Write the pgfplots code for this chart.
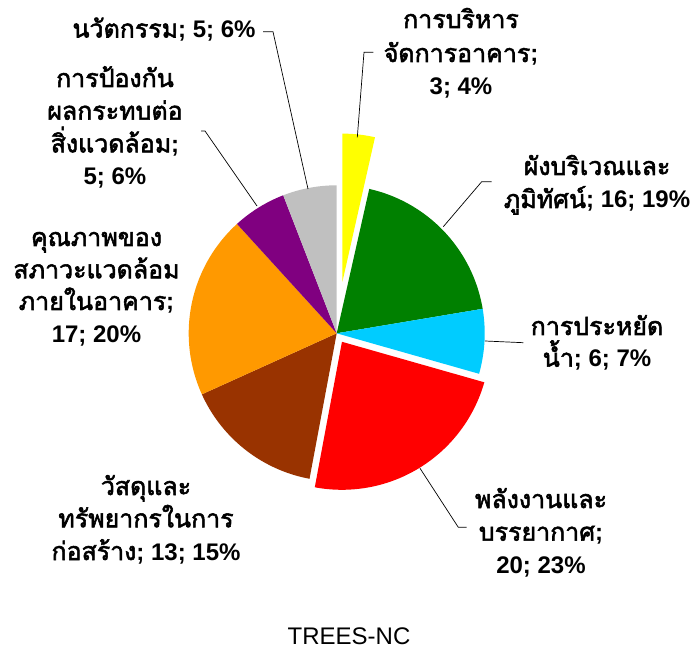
\documentclass[border=0pt]{standalone}
\usepackage{pgfplots}
\pgfplotsset{compat=1.18}
\usepackage{fontspec}
\setmainfont{Liberation Sans}
\newfontfamily\thai[Script=Thai, Scale=1.04, BoldFont={Loma}, BoldFeatures={FakeBold=2.2}]{Loma}
\newcommand{\T}[1]{{\thai #1}}
\definecolor{cYellow}{HTML}{FFFF00}
\definecolor{cGreen}{HTML}{008000}
\definecolor{cCyan}{HTML}{00CCFF}
\definecolor{cRed}{HTML}{FF0000}
\definecolor{cBrown}{HTML}{993300}
\definecolor{cOrange}{HTML}{FF9900}
\definecolor{cPurple}{HTML}{800080}
\definecolor{cGray}{HTML}{C0C0C0}
\tikzset{lb/.style={anchor=base, inner sep=0pt, font=\bfseries\fontsize{24}{33}\selectfont}}
% pie geometry (axis units = pt)
\def\cx{336.7}
\def\cy{315.7}
\def\R{148}
\def\total{85}
% #1 cumulative value before slice, #2 value, #3 colour, #4 explode distance
\newcommand{\slice}[4]{%
  \pgfmathsetmacro\aS{90-(#1)/\total*360}%
  \pgfmathsetmacro\aE{90-(#1+#2)/\total*360}%
  \pgfmathsetmacro\aM{(\aS+\aE)/2}%
  \pgfmathsetmacro\ox{\cx+#4*cos(\aM)}%
  \pgfmathsetmacro\oy{\cy+#4*sin(\aM)}%
  \edef\doslice{\noexpand\addplot[fill=#3,draw=none,domain=\aE:\aS,samples=80]
    ({\ox+\R*cos(x)},{\oy+\R*sin(x)}) -- (axis cs:\ox,\oy) -- cycle;}%
  \doslice}
\begin{document}
\begin{tikzpicture}
\begin{axis}[
  width=699pt, height=649pt, scale only axis,
  xmin=0, xmax=699, ymin=0, ymax=649,
  hide axis, clip=false,
]
\path (axis cs:0,0) rectangle (axis cs:699,649);
% values: 3, 16, 6, 20, 13, 17, 5, 5 (total 85)
\slice{0}{3}{cYellow}{52}
\slice{3}{16}{cGreen}{0}
\slice{19}{6}{cCyan}{0}
\slice{25}{20}{cRed}{10}
\slice{45}{13}{cBrown}{0}
\slice{58}{17}{cOrange}{0}
\slice{75}{5}{cPurple}{0}
\slice{80}{5}{cGray}{0}
% leader lines
\draw[black, line width=0.7pt] (axis cs:263,617.3) -- (axis cs:273,617.3) -- (axis cs:308,460);
\draw[black, line width=0.7pt] (axis cs:201,518) -- (axis cs:205,518) -- (axis cs:257,443);
\draw[black, line width=0.7pt] (axis cs:357.3,511.7) -- (axis cs:364,596.7) -- (axis cs:373.3,596.7);
\draw[black, line width=0.7pt] (axis cs:443.3,422.3) -- (axis cs:481.7,467.3) -- (axis cs:491.7,467.3);
\draw[black, line width=0.7pt] (axis cs:485,308) -- (axis cs:523.3,306.3);
\draw[black, line width=0.7pt] (axis cs:420,180.7) -- (axis cs:458.3,121.7) -- (axis cs:466.7,121.7);
% labels
\node[lb] at (axis cs:164,611.5) {\T{นวัตกรรม}; 5; 6\%};
\node[lb] at (axis cs:115,562) {\T{การป้องกัน}};
\node[lb] at (axis cs:115,529.3) {\T{ผลกระทบต่อ}};
\node[lb] at (axis cs:115,496.6) {\T{สิ่งแวดล้อม};};
\node[lb] at (axis cs:115,464) {5; 6\%};
\node[lb] at (axis cs:96.5,403) {\T{คุณภาพของ}};
\node[lb] at (axis cs:96.5,370.7) {\T{สภาวะแวดล้อม}};
\node[lb] at (axis cs:96.5,339) {\T{ภายในอาคาร};};
\node[lb] at (axis cs:96.5,306.3) {17; 20\%};
\node[lb] at (axis cs:146,154) {\T{วัสดุและ}};
\node[lb] at (axis cs:146,121.7) {\T{ทรัพยากรในการ}};
\node[lb] at (axis cs:146,89) {\T{ก่อสร้าง}; 13; 15\%};
\node[lb] at (axis cs:541,141) {\T{พลังงานและ}};
\node[lb] at (axis cs:541,108.3) {\T{บรรยากาศ};};
\node[lb] at (axis cs:541,76) {20; 23\%};
\node[lb] at (axis cs:597,314) {\T{การประหยัด}};
\node[lb] at (axis cs:597,282.3) {\T{น้ำ}; 6; 7\%};
\node[lb] at (axis cs:597,474) {\T{ผังบริเวณและ}};
\node[lb] at (axis cs:597,441) {\T{ภูมิทัศน์}; 16; 19\%};
\node[lb] at (axis cs:461,621) {\T{การบริหาร}};
\node[lb] at (axis cs:461,587) {\T{จัดการอาคาร};};
\node[lb] at (axis cs:461,554) {3; 4\%};
\node[anchor=base, inner sep=0pt, font=\fontsize{24}{28}\selectfont] at (axis cs:349,4.5) {TREES-NC};
\end{axis}
\end{tikzpicture}
\end{document}
